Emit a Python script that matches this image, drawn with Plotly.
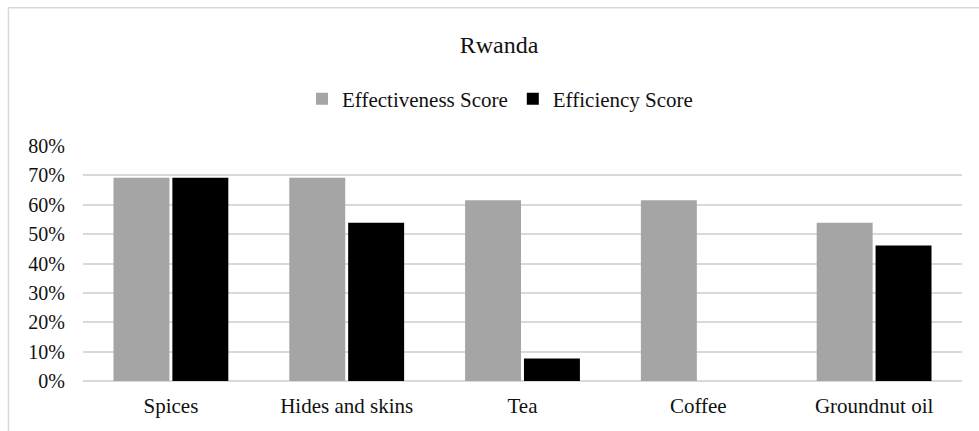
import plotly.graph_objects as go

# Rwanda: effectiveness vs efficiency scores by product
categories = ["Spices", "Hides and skins", "Tea", "Coffee", "Groundnut oil"]
effectiveness = [9 / 13, 9 / 13, 8 / 13, 8 / 13, 7 / 13]
efficiency = [9 / 13, 7 / 13, 1 / 13, 0.0, 6 / 13]
y_ticks = [0, 0.1, 0.2, 0.3, 0.4, 0.5, 0.6, 0.7, 0.8]

W, H = 979, 431
ML, MR, MT, MB = 83, 17, 146, 49.5
plot_w = W - ML - MR
plot_h = H - MT - MB

FONT = "Liberation Serif"
TXT = "#111111"
GRID = "#d9d9d9"

fig = go.Figure()
fig.add_trace(go.Bar(name="Effectiveness Score", x=categories, y=effectiveness,
                     marker=dict(color="#a5a5a5", line=dict(width=0))))
fig.add_trace(go.Bar(name="Efficiency Score", x=categories, y=efficiency,
                     marker=dict(color="#000000", line=dict(width=0))))

# light outer frame of the chart area (runs off the right/bottom edges)
fig.add_shape(type="rect", xref="paper", yref="paper",
              x0=(8.5 - ML) / plot_w, x1=(W + 20 - ML) / plot_w,
              y0=-(MB + 20) / plot_h, y1=(H - MB - 7.5) / plot_h,
              line=dict(color=GRID, width=1.5), fillcolor="rgba(0,0,0,0)",
              layer="below")

fig.update_layout(
    width=W, height=H,
    margin=dict(l=ML, r=MR, t=MT, b=MB),
    paper_bgcolor="white", plot_bgcolor="white",
    barmode="group", bargap=0.33, bargroupgap=0.05,
    title=dict(text="Rwanda", x=499 / W, xref="container", xanchor="center",
               y=1 - 45 / H, yanchor="middle",
               font=dict(family=FONT, size=24, color=TXT)),
    legend=dict(orientation="h", x=(500 - ML) / plot_w, xanchor="center",
                y=(H - MB - 99) / plot_h, yanchor="middle",
                font=dict(family=FONT, size=21, color=TXT),
                bgcolor="rgba(0,0,0,0)", traceorder="normal"),
    font=dict(family=FONT, color=TXT),
    showlegend=True,
)

fig.update_xaxes(showgrid=False, showline=False, zeroline=False, ticks="",
                 tickfont=dict(family=FONT, size=21, color=TXT),
                 ticklabelstandoff=10)
fig.update_yaxes(range=[0, 0.8], tickvals=y_ticks, tickformat=".0%",
                 showgrid=True, gridcolor=GRID, gridwidth=1.5,
                 zeroline=True, zerolinecolor=GRID, zerolinewidth=1.5,
                 showline=False, ticks="",
                 tickfont=dict(family=FONT, size=20, color=TXT),
                 ticklabelstandoff=17)

fig.write_html("out.html")
